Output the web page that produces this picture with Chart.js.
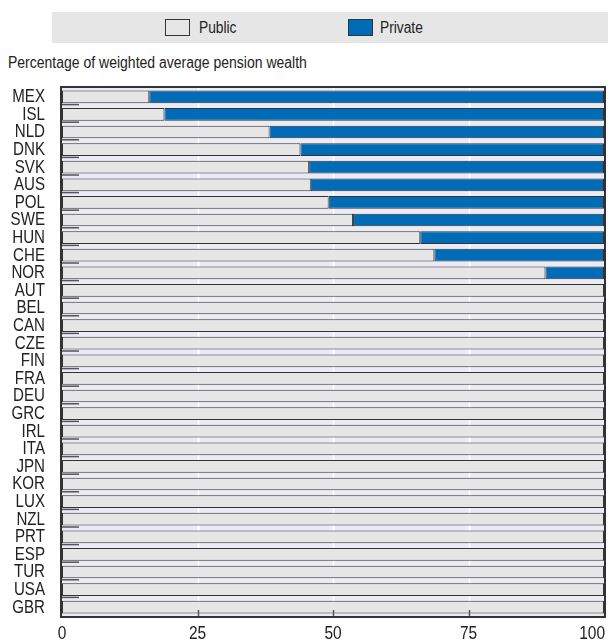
<!DOCTYPE html>
<html>
<head>
<meta charset="utf-8">
<script src="https://cdn.jsdelivr.net/npm/chart.js@4.4.0/dist/chart.umd.min.js"></script>
<style>
  html, body { margin: 0; padding: 0; background: #fff; }
  body { width: 608px; height: 641px; position: relative; overflow: hidden;
         font-family: "Liberation Sans", Arial, sans-serif; }
  #legend { position: absolute; left: 52px; top: 12px; width: 556px; height: 31px; background: #e6e6e6; }
  .item { position: absolute; top: 0; height: 31px; line-height: 31px; font-size: 16px; color: #222;
          transform: scaleX(0.86); transform-origin: 0 50%; }
  .swatch { position: absolute; top: 7px; width: 25px; height: 17px; box-sizing: border-box; border: 1px solid #333; }
  #subtitle { position: absolute; left: 8px; top: 54px; font-size: 16px; line-height: 18px; color: #222;
              transform: scaleX(0.875); transform-origin: 0 50%; white-space: nowrap; }
  #wrap { position: absolute; left: 0; top: 0; width: 608px; height: 641px; }
</style>
</head>
<body>
<div id="legend">
  <span class="swatch" style="left:113px;background:#e6e6e6"></span>
  <span class="item" style="left:147px">Public</span>
  <span class="swatch" style="left:296px;background:#006bb6"></span>
  <span class="item" style="left:328px">Private</span>
</div>
<div id="subtitle">Percentage of weighted average pension wealth</div>
<div id="wrap"><canvas id="chart" width="608" height="641"></canvas></div>
<script>
const countries = ['MEX', 'ISL', 'NLD', 'DNK', 'SVK', 'AUS', 'POL', 'SWE', 'HUN', 'CHE', 'NOR',
    'AUT', 'BEL', 'CAN', 'CZE', 'FIN', 'FRA', 'DEU', 'GRC', 'IRL', 'ITA', 'JPN', 'KOR', 'LUX',
    'NZL', 'PRT', 'ESP', 'TUR', 'USA', 'GBR'];
const publicShare = [16.1, 18.9, 38.3, 44.0, 45.6, 45.9, 49.2, 53.7, 66.1, 68.7, 89.2,
    100, 100, 100, 100, 100, 100, 100, 100, 100, 100, 100, 100, 100,
    100, 100, 100, 100, 100, 100];
const privateShare = [83.9, 81.1, 61.7, 56.0, 54.4, 54.1, 50.8, 46.3, 33.9, 31.3, 10.8,
    0, 0, 0, 0, 0, 0, 0, 0, 0, 0, 0, 0, 0,
    0, 0, 0, 0, 0, 0];
const xTicks = [0, 25, 50, 75, 100];

const FONT = '"Liberation Sans", Arial, sans-serif';

// plot background, boundary marks, frame and (narrow) axis labels
const framePlugin = {
    id: 'frame',
    beforeDatasetsDraw(chart) {
        const { ctx, chartArea: a } = chart;
        ctx.save();
        ctx.fillStyle = '#ecebf4';
        ctx.fillRect(a.left, a.top, a.right - a.left, a.bottom - a.top);
        const x = chart.scales.x;
        ctx.strokeStyle = '#ffffff';
        ctx.lineWidth = 1.5;
        [25, 50, 75].forEach(v => {
            const px = Math.round(x.getPixelForValue(v)) + 0.5;
            ctx.beginPath(); ctx.moveTo(px, a.top); ctx.lineTo(px, a.bottom); ctx.stroke();
        });
        ctx.restore();
    },
    afterDatasetsDraw(chart) {
        const { ctx, chartArea: a } = chart;
        const x = chart.scales.x;
        const y = chart.scales.y;
        ctx.save();
        ctx.strokeStyle = '#555';
        ctx.lineWidth = 1.5;
        for (let i = 0; i < countries.length - 1; i++) {
            const py = (y.getPixelForValue(i) + y.getPixelForValue(i + 1)) / 2 - 1;
            ctx.beginPath(); ctx.moveTo(a.left, py); ctx.lineTo(a.left + 17, py); ctx.stroke();
        }
        [25, 50, 75].forEach(v => {
            const px = Math.round(x.getPixelForValue(v)) + 0.5;
            ctx.beginPath(); ctx.moveTo(px, a.bottom); ctx.lineTo(px, a.bottom - 6); ctx.stroke();
        });
        ctx.strokeStyle = '#333';
        ctx.lineWidth = 2;
        ctx.strokeRect(a.left - 1, a.top - 1, a.right - a.left + 2, a.bottom - a.top + 2);

        // category labels
        ctx.fillStyle = '#222';
        ctx.textBaseline = 'middle';
        ctx.textAlign = 'right';
        ctx.font = '18px ' + FONT;
        countries.forEach((c, i) => {
            const py = y.getPixelForValue(i) + 0.5;
            ctx.save();
            ctx.translate(a.left - 17, py);
            ctx.scale(0.84, 1);
            ctx.fillText(c, 0, 0);
            ctx.restore();
        });
        // value labels
        ctx.font = '18px ' + FONT;
        ctx.textAlign = 'center';
        xTicks.forEach(v => {
            const label = String(v);
            const w = ctx.measureText(label).width * 0.86;
            let px = x.getPixelForValue(v);
            px = Math.min(px, chart.width - 3 - w / 2);
            ctx.save();
            ctx.translate(px, a.bottom + 18.5);
            ctx.scale(0.86, 1);
            ctx.fillText(label, 0, 0);
            ctx.restore();
        });
        ctx.restore();
    }
};

new Chart(document.getElementById('chart').getContext('2d'), {
    type: 'bar',
    data: {
        labels: countries,
        datasets: [{
            label: 'Public',
            data: publicShare,
            backgroundColor: '#e6e6e6',
            borderColor: '#333',
            borderWidth: 1,
            borderSkipped: false,
            barPercentage: 0.72,
            categoryPercentage: 1
        }, {
            label: 'Private',
            data: privateShare,
            backgroundColor: '#006bb6',
            borderColor: '#333',
            borderWidth: 1,
            borderSkipped: false,
            barPercentage: 0.72,
            categoryPercentage: 1
        }]
    },
    options: {
        indexAxis: 'y',
        responsive: false,
        animation: false,
        layout: { padding: { top: 88, right: 4, left: 0, bottom: 0 } },
        scales: {
            x: {
                stacked: true,
                min: 0,
                max: 100,
                afterFit: s => { s.height = 25; },
                grid: { display: false, drawTicks: false },
                border: { display: false },
                ticks: { display: false }
            },
            y: {
                stacked: true,
                afterFit: s => { s.width = 62; },
                grid: { display: false, drawTicks: false },
                border: { display: false },
                ticks: { display: false, autoSkip: false }
            }
        },
        plugins: {
            legend: { display: false },
            tooltip: { enabled: false }
        }
    },
    plugins: [framePlugin]
});
</script>
</body>
</html>
